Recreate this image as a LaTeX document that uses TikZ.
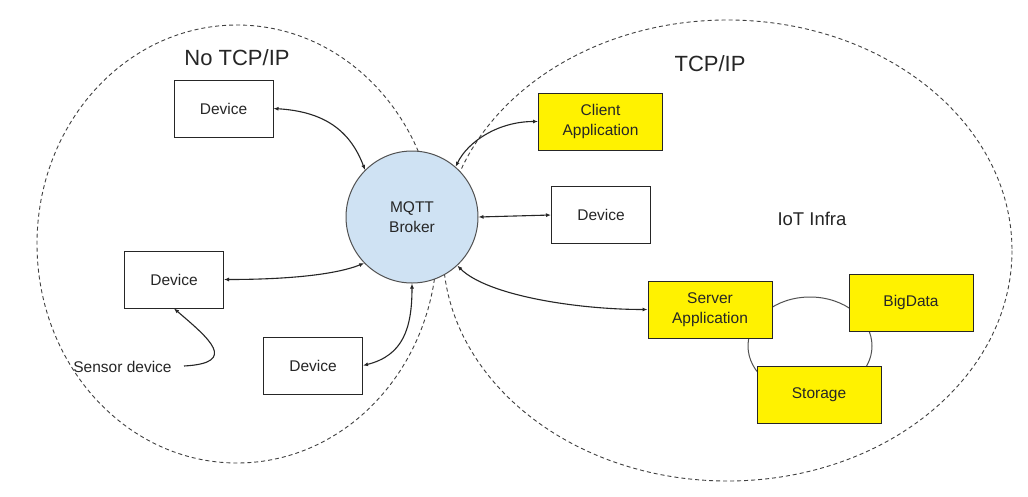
\documentclass[tikz,border=0pt]{standalone}
\usepackage{fontspec}
\setmainfont{Liberation Sans}
\usetikzlibrary{arrows.meta}
\definecolor{brokerblue}{HTML}{CFE2F3}
\definecolor{ink}{HTML}{262626}
\definecolor{dashgray}{HTML}{404040}
\begin{document}
\begin{tikzpicture}[x=1pt,y=-1pt,
  box/.style={draw=ink, line width=1pt, minimum width=99pt, minimum height=57pt, inner sep=0pt, align=center, text=ink, font=\fontsize{15.5}{19.5}\selectfont},
  appbox/.style={box, fill=yellow, minimum width=124pt},
  zone/.style={draw=dashgray, line width=0.9pt, dash pattern=on 4pt off 3pt},
  link/.style={draw=ink, line width=1.1pt, {Latex[length=5pt,width=4pt]}-{Latex[length=5pt,width=4pt]}},
  big/.style={text=ink, font=\fontsize{22}{26}\selectfont},
]
\useasboundingbox (0,0) rectangle (1028,496);
\fill[white] (0,0) rectangle (1028,496);
% zones
\draw[zone] (237,244) ellipse [x radius=200, y radius=219];
\draw[zone] (727.5,250.5) ellipse [x radius=284.5, y radius=230.5];
\node[big] (notcp) at (237,58) {No TCP/IP};
\node[big] (tcp) at (710,64) {TCP/IP};
\node[text=ink, font=\fontsize{18.5}{22}\selectfont] (iot) at (812,219) {IoT Infra};
% ring behind infra boxes
\draw[draw=ink!80, line width=1pt] (810,346) ellipse [x radius=62, y radius=49];
% broker
\node[circle, draw=ink!80, line width=1pt, fill=brokerblue, minimum size=132pt, inner sep=0pt, align=center, text=ink, font=\fontsize{15.5}{19.5}\selectfont] (broker) at (412,217) {MQTT\\Broker};
% boxes
\node[box] (d1) at (223.5,108.5) {Device};
\node[box] (d2) at (174,279.5) {Device};
\node[box] (d3) at (313,365.5) {Device};
\node[box] (d4) at (601,215) {Device};
\node[appbox] (client) at (600.5,121.5) {Client\\Application};
\node[appbox] (server) at (710,309.5) {Server\\Application};
\node[appbox] (bigdata) at (911,302.5) {BigData};
\node[appbox] (storage) at (819,394.5) {Storage};
\node[text=ink, font=\fontsize{15.5}{19}\selectfont, inner sep=0pt] (sensor) at (122.5,367) {Sensor device};
\coordinate (sensortail) at (184,366);
% connectors
\draw[link] (d1.east) .. controls +(50,3) and +(-15,-40) .. (broker.135);
\draw[link] (d2.east) .. controls +(60,0) and +(-30,12) .. (broker.224);
\draw[link] (d3.east) .. controls +(40,-10) and +(0,45) .. (broker.south);
\draw[link] (client.west) .. controls +(-40,0) and +(12,-25) .. (broker.49);
\draw[link] (d4.west) -- (broker.east);
\draw[link] (server.west) .. controls +(-70,0) and +(30,30) .. (broker.-47);
\draw[draw=ink, line width=1.1pt, -{Latex[length=5pt,width=4pt]}] (sensortail) .. controls +(55,-3) and +(35,30) .. (d2.south);
\end{tikzpicture}
\end{document}
